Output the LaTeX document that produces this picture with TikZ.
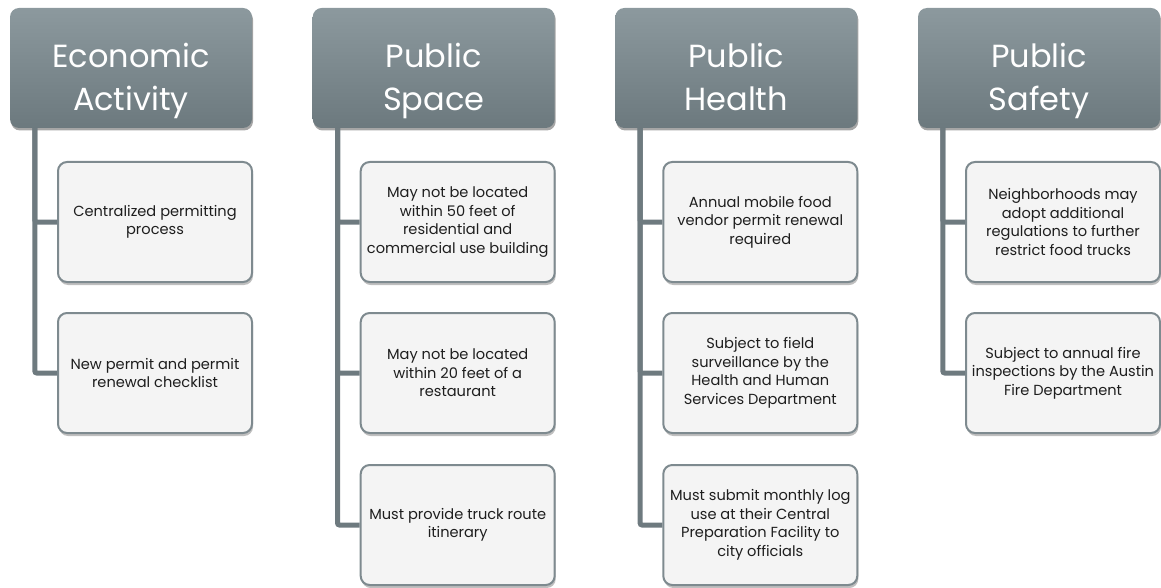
\documentclass[tikz,border=0pt]{standalone}
\usepackage{fontspec}
\setmainfont{Poppins}
\usetikzlibrary{shadows,calc}
\definecolor{hdrtop}{HTML}{8C999E}
\definecolor{hdrbot}{HTML}{6C797E}
\definecolor{conncol}{HTML}{6E7A7F}
\definecolor{boxline}{HTML}{7E8A8F}
\definecolor{boxfill}{HTML}{F4F4F4}
\definecolor{txt}{HTML}{1E1E1E}
\tikzset{
  hdr/.style={rectangle, rounded corners=9pt, minimum width=242pt, minimum height=120pt,
    top color=hdrtop, bottom color=hdrbot, draw=none,
    drop shadow={shadow xshift=1pt, shadow yshift=-2.5pt, opacity=0.35, fill=black}},
  hdrtxt/.style={text=white, align=center, inner sep=0pt,
    font=\fontsize{32}{43}\selectfont},
  item/.style={rectangle, rounded corners=9pt, minimum width=194pt, minimum height=120pt,
    fill=boxfill, draw=boxline, line width=2pt, text=txt, align=center,
    font=\fontsize{14.6}{18.5}\selectfont, inner sep=1pt,
    drop shadow={shadow xshift=1pt, shadow yshift=-3pt, opacity=0.25, fill=black}},
  conn/.style={draw=conncol, line width=5pt, rounded corners=2pt}
}
\begin{document}
\begin{tikzpicture}[x=1pt,y=-1pt]
\useasboundingbox (0,0) rectangle (1161,588);
% headers
\node[hdr] (h1) at (131,68) {};
\node[hdr] (h2) at (433.7,68) {};
\node[hdr] (h3) at (736.3,68) {};
\node[hdr] (h4) at (1039,68) {};
\node[hdrtxt] (t1) at ($(h1)+(0,12)$) {\strut Economic\\\strut Activity};
\node[hdrtxt] (t2) at ($(h2)+(0,12)$) {\strut Public\\\strut Space};
\node[hdrtxt] (t3) at ($(h3)+(0,12)$) {\strut Public\\\strut Health};
\node[hdrtxt] (t4) at ($(h4)+(0,12)$) {\strut Public\\\strut Safety};
\coordinate (v1) at ($(h1.south west)+(25pt,0)$);
\coordinate (v2) at ($(h2.south west)+(25pt,0)$);
\coordinate (v3) at ($(h3.south west)+(25pt,0)$);
\coordinate (v4) at ($(h4.south west)+(25pt,0)$);
% children
\node[item] (c11) at (155,222) {Centralized permitting\\process};
\node[item] (c12) at (155,373) {New permit and permit\\renewal checklist};
\node[item] (c21) at (457.7,222) {May not be located\\within 50 feet of\\residential and\\commercial use building};
\node[item] (c22) at (457.7,373) {May not be located\\within 20 feet of a\\restaurant};
\node[item] (c23) at (457.7,525) {Must provide truck route\\itinerary};
\node[item] (c31) at (760.3,222) {Annual mobile food\\vendor permit renewal\\required};
\node[item] (c32) at (760.3,373) {Subject to field\\surveillance by the\\Health and Human\\Services Department};
\node[item] (c33) at (760.3,525) {Must submit monthly log\\use at their Central\\Preparation Facility to\\city officials};
\node[item] (c41) at (1063,222) {Neighborhoods may\\adopt additional\\regulations to further\\restrict food trucks};
\node[item] (c42) at (1063,373) {Subject to annual fire\\inspections by the Austin\\Fire Department};
% connectors
\draw[conn] (v1) |- (c11.west);
\draw[conn] (v1) |- (c12.west);
\draw[conn] (v2) |- (c21.west);
\draw[conn] (v2) |- (c22.west);
\draw[conn] (v2) |- (c23.west);
\draw[conn] (v3) |- (c31.west);
\draw[conn] (v3) |- (c32.west);
\draw[conn] (v3) |- (c33.west);
\draw[conn] (v4) |- (c41.west);
\draw[conn] (v4) |- (c42.west);
\end{tikzpicture}
\end{document}
